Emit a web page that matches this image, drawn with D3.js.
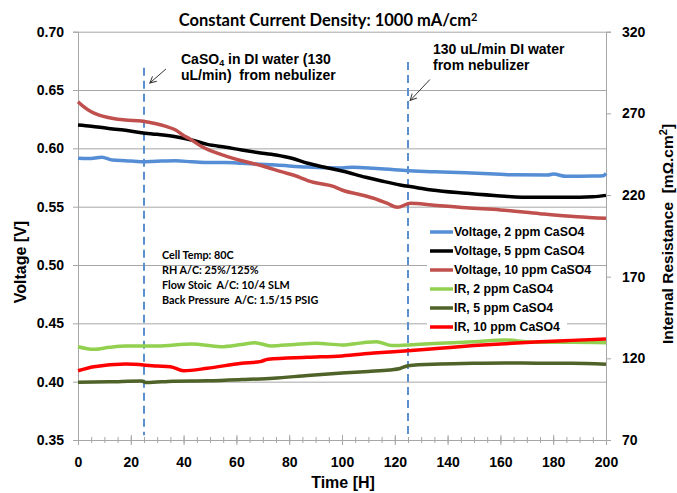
<!DOCTYPE html>
<html>
<head>
<meta charset="utf-8">
<script src="https://cdn.jsdelivr.net/npm/d3@7"></script>
<style>
  html, body { margin: 0; padding: 0; background: #fff; }
  svg { display: block; }
  text { white-space: pre; }
  .tick text { font-family: "Liberation Sans", Arial, sans-serif; font-weight: bold; font-size: 14px; fill: #000; }
</style>
</head>
<body>
<svg id="chart" width="677" height="493"></svg>
<script>
// ---- data: [time (h), value] ----
const voltage2ppm = [[0,0.5915],[4,0.5912],[9,0.5924],[13,0.5900],[18,0.5894],[24,0.5886],[30,0.5890],[37,0.5893],[43,0.5885],[49,0.5878],[56,0.5878],[62,0.5872],[75,0.5857],[87,0.5840],[100,0.5832],[104,0.5838],[112,0.5830],[124,0.5810],[135,0.5800],[147,0.5790],[160,0.5778],[165,0.5773],[178,0.5772],[180,0.5780],[185,0.5760],[195,0.5763],[199,0.5766],[200,0.5785]];
const voltage5ppm = [[0,0.6200],[5,0.6190],[11,0.6172],[18,0.6155],[24,0.6134],[30,0.6120],[37,0.6100],[43,0.6072],[49,0.6034],[56,0.6010],[62,0.5986],[68,0.5965],[75,0.5943],[81,0.5915],[87,0.5872],[93,0.5840],[100,0.5806],[109,0.5752],[115,0.5720],[122,0.5686],[128,0.5665],[134,0.5643],[147,0.5615],[160,0.5592],[172,0.5580],[185,0.5580],[195,0.5585],[200,0.5597]];
const voltage10ppm = [[0,0.6400],[2,0.6360],[5,0.6314],[8,0.6285],[11,0.6266],[15,0.6250],[18,0.6243],[24,0.6235],[30,0.6209],[33,0.6190],[37,0.6157],[40,0.6110],[42,0.6086],[47,0.6014],[52,0.5965],[56,0.5934],[62,0.5894],[70,0.5849],[77,0.5800],[84,0.5752],[87,0.5723],[97,0.5672],[100,0.5643],[109,0.5592],[112,0.5572],[117,0.5530],[121,0.5495],[126,0.5530],[134,0.5515],[147,0.5490],[160,0.5472],[175,0.5440],[189,0.5414],[200,0.5400]];
const ir2ppm = [[0,127.1],[6,125.5],[12,126.8],[18,127.6],[30,127.6],[43,128.8],[54,127.1],[62,128.5],[67,129.6],[73,127.6],[82,128.5],[90,129.2],[100,128.2],[108,129.6],[113,130.2],[119,127.8],[128,128.5],[137,129.2],[150,130.2],[162,131.2],[170,130.2],[177,129.8],[187,129.8],[200,129.6]];
const ir5ppm = [[0,105.3],[12,105.6],[24,106.1],[26,105.2],[36,106.0],[49,106.3],[62,107.0],[74,107.8],[87,109.5],[100,111.0],[110,112.0],[118,112.9],[122,113.8],[125,115.5],[137,116.5],[150,117.0],[162,117.2],[175,117.0],[187,117.0],[200,116.4]];
const ir10ppm = [[0,112.4],[6,114.9],[18,116.5],[30,115.3],[35,114.9],[40,112.4],[49,113.9],[62,117.0],[69,118.0],[72,119.4],[87,120.6],[100,121.5],[112,123.2],[125,124.7],[137,126.2],[150,127.8],[162,129.0],[175,130.2],[187,131.0],[200,131.8]];

const seriesNames = ["Voltage, 2 ppm CaSO4","Voltage, 5 ppm CaSO4","Voltage, 10 ppm CaSO4","IR, 2 ppm CaSO4","IR, 5 ppm CaSO4","IR, 10 ppm CaSO4"];
const seriesColors = ["#558ED5","#000000","#C0504D","#92D050","#4F6228","#FF0000"];

const xTicks = [0,20,40,60,80,100,120,140,160,180,200];
const xMinorTicks = d3.range(0, 201, 5);
const voltageTicks = [0.35,0.40,0.45,0.50,0.55,0.60,0.65,0.70];
const resistanceTicks = [70,120,170,220,270,320];
const eventTimes = [25, 125];

const infoLines = ["Cell Temp: 80C","RH A/C: 25%/125%","Flow Stoic  A/C: 10/4 SLM","Back Pressure  A/C: 1.5/15 PSIG"];

// ---- layout ----
const svg = d3.select("#chart");
const plot = { left: 78, right: 606, top: 31.7, bottom: 440 };
const x = d3.scaleLinear().domain([0, 200]).range([plot.left, plot.right]);
const yV = d3.scaleLinear().domain([0.35, 0.70]).range([plot.bottom, plot.top]);
const yR = d3.scaleLinear().domain([70, 320]).range([plot.bottom, plot.top]);
const gridColor = "#A6A6A6";
const sans = "Liberation Sans, Arial, sans-serif";

// horizontal gridlines at voltage ticks
const grid = svg.append("g").attr("transform", `translate(${plot.left},0)`)
  .call(d3.axisLeft(yV).tickValues(voltageTicks.slice(1)).tickSize(-(plot.right - plot.left)).tickFormat(""));
grid.select(".domain").remove();
grid.selectAll("line").attr("stroke", gridColor).attr("stroke-width", 1);

// left axis
const gL = svg.append("g").attr("transform", `translate(${plot.left},0)`)
  .call(d3.axisLeft(yV).tickValues(voltageTicks).tickSize(5).tickPadding(9).tickFormat(d3.format(".2f")));
gL.selectAll(".domain, line").attr("stroke", gridColor);

// right axis
const gR = svg.append("g").attr("transform", `translate(${plot.right},0)`)
  .call(d3.axisRight(yR).tickValues(resistanceTicks).tickSize(5).tickPadding(11).tickFormat(d3.format("d")));
gR.selectAll(".domain, line").attr("stroke", gridColor);

// bottom axis: minor ticks then major ticks crossing the axis line
const gMinor = svg.append("g").attr("transform", `translate(0,${plot.bottom})`)
  .call(d3.axisBottom(x).tickValues(xMinorTicks).tickSize(3).tickFormat(""));
gMinor.select(".domain").remove();
gMinor.selectAll("line").attr("y1", -3).attr("stroke", gridColor);
const gB = svg.append("g").attr("transform", `translate(0,${plot.bottom})`)
  .call(d3.axisBottom(x).tickValues(xTicks).tickSize(5).tickPadding(12).tickFormat(d3.format("d")));
gB.selectAll(".domain, line").attr("stroke", gridColor);
gB.selectAll("line").attr("y1", -5);

// event markers (dashed verticals)
const eventTops = [0.669, 0.674];
svg.append("g").selectAll("line").data(eventTimes).join("line")
  .attr("x1", d => x(d)).attr("x2", d => x(d))
  .attr("y1", (d, i) => yV(eventTops[i])).attr("y2", yV(0.354))
  .attr("stroke", "#5B8FD0").attr("stroke-width", 2).attr("stroke-dasharray", "8,5");

// series
const voltageSeries = [voltage2ppm, voltage5ppm, voltage10ppm];
const irSeries = [ir2ppm, ir5ppm, ir10ppm];
const lineV = d3.line().x(d => x(d[0])).y(d => yV(d[1])).curve(d3.curveMonotoneX);
const lineR = d3.line().x(d => x(d[0])).y(d => yR(d[1])).curve(d3.curveMonotoneX);
const lines = svg.append("g").attr("fill", "none").attr("stroke-width", 3.5).attr("stroke-linejoin", "round");
irSeries.forEach((s, i) => lines.append("path").attr("d", lineR(s)).attr("stroke", seriesColors[i + 3]));
voltageSeries.forEach((s, i) => lines.append("path").attr("d", lineV(s)).attr("stroke", seriesColors[i]));

// legend
const lg = svg.append("g");
lg.append("rect").attr("x", 427).attr("y", 222).attr("width", 140).attr("height", 114).attr("fill", "#fff");
seriesNames.forEach((name, i) => {
  const yy = 232 + i * 19;
  lg.append("line").attr("x1", 430).attr("x2", 453).attr("y1", yy).attr("y2", yy)
    .attr("stroke", seriesColors[i]).attr("stroke-width", 3.5);
  lg.append("text").attr("x", 454).attr("y", yy).attr("dy", "0.35em")
    .attr("font-family", sans).attr("font-weight", "bold").attr("font-size", 12.3)
    .text(name);
});

// operating conditions
svg.append("g").selectAll("text").data(infoLines).join("text")
  .attr("x", 162).attr("y", (d, i) => 259 + i * 15)
  .attr("font-family", "Lato, sans-serif").attr("font-weight", "bold").attr("font-size", 10.8)
  .text(d => d);

// annotations
svg.append("defs").append("marker").attr("id", "arrow")
  .attr("viewBox", "0 0 10 10").attr("refX", 9).attr("refY", 5)
  .attr("markerWidth", 8).attr("markerHeight", 8).attr("markerUnits", "userSpaceOnUse").attr("orient", "auto")
  .append("path").attr("d", "M1,1 L9,5 L1,9").attr("fill", "none").attr("stroke", "#333").attr("stroke-width", 1.2);

const arrows = [
  { from: [33.3, 0.668], to: [27.2, 0.656] },
  { from: [133.3, 0.659], to: [125.8, 0.641] }
];
svg.append("g").selectAll("line").data(arrows).join("line")
  .attr("x1", d => x(d.from[0])).attr("y1", d => yV(d.from[1]))
  .attr("x2", d => x(d.to[0])).attr("y2", d => yV(d.to[1]))
  .attr("stroke", "#333").attr("stroke-width", 1).attr("marker-end", "url(#arrow)");

function noteText(xp, yp) {
  return svg.append("text").attr("x", xp).attr("y", yp)
    .attr("font-family", sans).attr("font-weight", "bold").attr("font-size", 14);
}
const a1 = noteText(181, 64);
a1.append("tspan").text("CaSO");
a1.append("tspan").attr("font-size", 9).attr("dy", 2).text("4");
a1.append("tspan").attr("dy", -2).text(" in DI water (130");
noteText(181, 80).text("uL/min)  from nebulizer");
noteText(433, 54).text("130 uL/min DI water");
noteText(433, 70).text("from nebulizer");

// title
const title = svg.append("text").attr("x", 328).attr("y", 26).attr("text-anchor", "middle")
  .attr("font-family", "Lato, sans-serif").attr("font-weight", "bold").attr("font-size", 16.5);
title.append("tspan").text("Constant Current Density: 1000 mA/cm");
title.append("tspan").attr("font-size", 11).attr("dy", -5).text("2");

// axis titles
svg.append("text").attr("transform", "translate(26,262) rotate(-90)").attr("text-anchor", "middle")
  .attr("font-family", sans).attr("font-weight", "bold").attr("font-size", 16)
  .text("Voltage [V]");
const rt = svg.append("text").attr("transform", "translate(673,234) rotate(-90)").attr("text-anchor", "middle")
  .attr("font-family", sans).attr("font-weight", "bold").attr("font-size", 15.5);
rt.append("tspan").text("Internal Resistance  [mΩ.cm");
rt.append("tspan").attr("font-size", 11).attr("dy", -6).text("2");
rt.append("tspan").attr("dy", 6).text("]");
svg.append("text").attr("x", 343).attr("y", 488).attr("text-anchor", "middle")
  .attr("font-family", sans).attr("font-weight", "bold").attr("font-size", 16)
  .text("Time [H]");
</script>
</body>
</html>
